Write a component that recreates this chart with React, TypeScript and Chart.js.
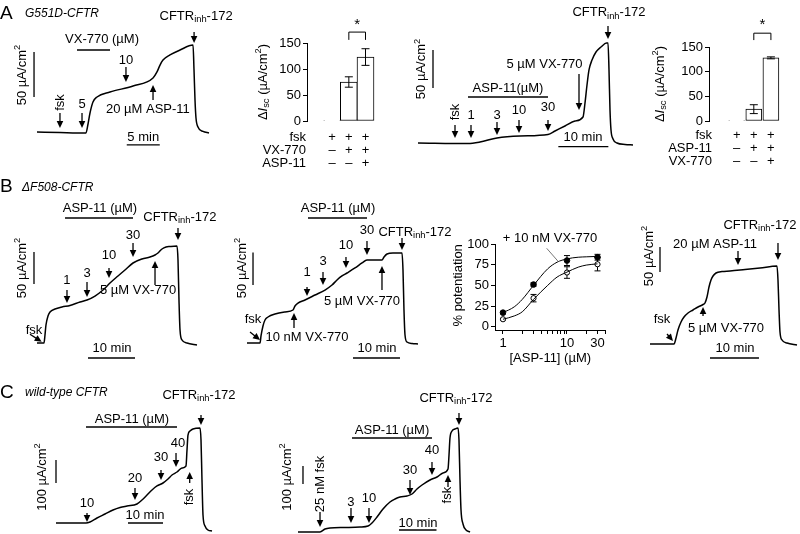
import React, { useEffect, useRef } from 'react';
import { Chart, registerables } from 'chart.js';

Chart.register(...registerables);

const FONT = '"Liberation Sans", Arial, Helvetica, sans-serif';
Chart.defaults.font.family = FONT;
Chart.defaults.font.size = 13;
Chart.defaults.color = '#000';

// ======================= DATA =======================
// Time in min, short-circuit current in µA/cm2 (relative to baseline)

// A, left: G551D-CFTR, VX-770 then 20 µM ASP-11
const a1Time = [0, 3.48, 7.42, 7.73, 8.03, 8.48, 9.09, 11.06, 14.55, 17.58, 18.18, 18.64, 19.09, 20.15, 21.67, 23.64, 23.79, 23.94, 24.09, 24.39, 25.15, 26.06];
const a1Current = [0, -0.6, -1.1, 8.9, 21.1, 33.3, 38.9, 44.4, 51.1, 60, 66.7, 74.4, 80, 85.6, 91.1, 96.7, 68.9, 35.6, 15.6, 5.6, 0.6, -1.1];

// A, first summary bars
const a1BarRows = ['fsk', 'VX-770', 'ASP-11'];
const a1BarSigns = [['+', '+', '+'], ['–', '+', '+'], ['–', '–', '+']];
const a1BarValues = [1, 75, 123];
const a1BarErrors = [0, 10, 16];

// A, right: G551D-CFTR, ASP-11 then 5 µM VX-770
const a2Time = [0, 10, 12.4, 15.8, 20.4, 26, 27.4, 29.4, 31.4, 33, 33.4, 33.8, 34.2, 34.8, 35.6, 36.6, 37.7, 38, 38.2, 38.4, 38.6, 39, 39.8, 41.4, 43];
const a2Current = [0, -0.7, 1.3, 6.6, 9.2, 11.2, 15.8, 22.4, 28.9, 34.2, 52.6, 76.3, 96.1, 109.2, 119.7, 126.3, 131.6, 131.6, 96.1, 43.4, 17.1, 5.3, 0, -2, -2.6];

// A, second summary bars
const a2BarRows = ['fsk', 'ASP-11', 'VX-770'];
const a2BarSigns = [['+', '+', '+'], ['–', '+', '+'], ['–', '–', '+']];
const a2BarValues = [1, 24, 128];
const a2BarErrors = [0, 9, 2];

// B, ΔF508-CFTR traces
const b1Time = [0, 1.49, 1.70, 1.91, 2.34, 2.77, 3.83, 5.32, 7.02, 9.15, 10.64, 12.34, 14.04, 15.53, 17.23, 18.72, 20.43, 22.34, 24.04, 25.11, 25.74, 26.60, 27.45, 28.30, 29.79, 30.0, 30.21, 30.43, 30.85, 31.91, 34.04];
const b1Current = [0, 0, 12.5, 28.1, 42.2, 48.4, 53.1, 56.3, 58.6, 64.1, 67.2, 73.4, 82.8, 93.8, 104.7, 114.1, 125, 131.3, 134.4, 137.5, 140.6, 146.9, 150, 150.8, 151.6, 129.7, 67.2, 20.3, 4.7, 0, -3.1];

const b2Time = [0, 2.77, 2.98, 3.40, 3.83, 4.47, 5.96, 8.09, 9.79, 10.21, 10.85, 12.34, 14.47, 16.60, 18.09, 19.15, 20.21, 21.28, 22.98, 24.47, 25.53, 27.23, 28.72, 29.15, 29.79, 31.06, 32.98, 33.19, 33.40, 33.62, 34.04, 35.11, 36.38];
const b2Current = [0, 0, 10.8, 26.2, 35.4, 40, 44.6, 47.7, 50.8, 56.9, 61.5, 66.2, 73.8, 81.5, 89.2, 96.9, 103.1, 107.7, 115.4, 123.1, 127.7, 127.7, 127.7, 132.3, 136.9, 138.5, 138.5, 112.3, 50.8, 12.3, 1.5, -0.8, -1.5];

const b3Time = [0, 4.90, 5.31, 5.71, 6.33, 6.94, 7.76, 8.78, 9.80, 10.82, 11.22, 11.63, 12.04, 12.45, 12.86, 13.47, 14.69, 16.33, 19.39, 22.45, 25.92, 26.12, 26.33, 26.53, 26.94, 27.96, 30.0];
const b3Current = [0, 0, 12, 28, 44, 54, 62, 68, 74, 79, 82, 94, 114, 128, 136, 142, 145, 146, 149, 152, 156, 128, 68, 24, 8, 2, -2];

// B, concentration dependence (% potentiation vs [ASP-11] µM)
const bConc = [1, 3, 10, 30];
const bPotWithVX = [17, 51, 80, 84];
const bPotWithVXErr = [1.5, 2, 6, 3.5];
const bPotAlone = [9, 34.5, 65.5, 75.5];
const bPotAloneErr = [1, 4.5, 7, 8];
const bFitConc = [1, 1.5, 2, 3, 5, 7, 10, 15, 20, 30];
const bFitWithVX = [17, 24, 33, 50, 70, 78, 82, 84, 84.5, 85];
const bFitAlone = [9, 13, 18, 33, 50, 60, 66, 72, 74.5, 76];
const bXTickValues = [1, 2, 3, 4, 5, 6, 7, 8, 9, 10, 20, 30, 40];
const bXTickLabels = ['1', '10', '30'];
const bYTicks = [0, 25, 50, 75, 100];

// C, wild-type CFTR traces
const c1Time = [0, 8.57, 9.71, 11.71, 14.0, 16.29, 18.29, 20.29, 23.14, 24.57, 26.0, 27.43, 28.86, 30.57, 32.0, 33.14, 34.57, 36.0, 37.14, 37.43, 37.71, 38.29, 39.14, 41.14, 41.43, 41.71, 42.0, 42.57, 43.43, 44.57];
const c1Current = [0, 0, 4.3, 21.7, 39.1, 56.5, 67.4, 73.9, 82.6, 100, 121.7, 143.5, 160.9, 173.9, 191.3, 208.7, 221.7, 239.1, 247.8, 317.4, 382.6, 400, 408.7, 413, 360.9, 187, 34.8, -13, -30.4, -34.8];

const c2Time = [0, 5.87, 7.2, 8.53, 12.53, 16.53, 18.67, 19.73, 21.07, 22.67, 24.53, 25.87, 27.2, 29.07, 30.4, 31.73, 33.07, 35.2, 37.07, 38.67, 40, 40.27, 40.53, 41.07, 41.87, 42.67, 42.93, 43.2, 43.47, 44.0, 44.8, 45.87];
const c2Current = [0, 0, 16.7, 22.2, 25, 27.8, 33.3, 50, 83.3, 127.8, 166.7, 183.3, 194.4, 200, 211.1, 238.9, 261.1, 288.9, 305.6, 327.8, 350, 427.8, 522.2, 561.1, 572.2, 577.8, 511.1, 288.9, 122.2, 44.4, 11.1, 0];

// ======================= DRAW HELPERS =======================
type Box = { l: number; t: number; w: number; h: number };

function parseRich(s: string) {
  const segs: { t: string; m: string }[] = [];
  const re = /([_^~])\{([^}]*)\}/g;
  let last = 0;
  let m: RegExpExecArray | null;
  while ((m = re.exec(s))) {
    if (m.index > last) segs.push({ t: s.slice(last, m.index), m: 'n' });
    segs.push({ t: m[2], m: m[1] === '_' ? 'sub' : m[1] === '^' ? 'sup' : 'it' });
    last = re.lastIndex;
  }
  if (last < s.length) segs.push({ t: s.slice(last), m: 'n' });
  return segs;
}

function drawRich(ctx: CanvasRenderingContext2D, s: string, x: number, y: number, opt: any = {}) {
  const size = opt.size ?? 13;
  const segs = parseRich(s);
  const fontFor = (seg: any) => {
    const small = seg.m === 'sub' || seg.m === 'sup';
    const sz = small ? size * 0.72 : size;
    const it = opt.italic || seg.m === 'it' ? 'italic ' : '';
    return `${it}${sz}px ${FONT}`;
  };
  ctx.save();
  let w = 0;
  const widths = segs.map((seg) => {
    ctx.font = fontFor(seg);
    const ww = ctx.measureText(seg.t).width;
    w += ww;
    return ww;
  });
  ctx.translate(x, y);
  if (opt.rot) ctx.rotate(-Math.PI / 2);
  let cx = opt.align === 'left' ? 0 : opt.align === 'right' ? -w : -w / 2;
  ctx.textBaseline = 'middle';
  ctx.textAlign = 'left';
  ctx.fillStyle = '#000';
  segs.forEach((seg, i) => {
    ctx.font = fontFor(seg);
    const dy = seg.m === 'sub' ? size * 0.3 : seg.m === 'sup' ? -size * 0.33 : 0;
    ctx.fillText(seg.t, cx, dy);
    cx += widths[i];
  });
  ctx.restore();
}

function drawArrow(ctx: CanvasRenderingContext2D, x1: number, y1: number, x2: number, y2: number) {
  const ang = Math.atan2(y2 - y1, x2 - x1);
  const hl = 7;
  const hw = 3.3;
  const c = Math.cos(ang);
  const s = Math.sin(ang);
  ctx.beginPath();
  ctx.moveTo(x1, y1);
  ctx.lineTo(x2 - c * hl * 0.7, y2 - s * hl * 0.7);
  ctx.stroke();
  ctx.beginPath();
  ctx.moveTo(x2, y2);
  ctx.lineTo(x2 - hl * c + hw * s, y2 - hl * s - hw * c);
  ctx.lineTo(x2 - hl * c - hw * s, y2 - hl * s + hw * c);
  ctx.closePath();
  ctx.fill();
}

function makeAnno(items: any[], box: Box) {
  return {
    id: 'anno',
    afterDatasetsDraw(chart: any) {
      const ctx = chart.ctx as CanvasRenderingContext2D;
      const X = (v: number) => chart.scales.x.getPixelForValue(v);
      const Y = (v: number) => chart.scales.y.getPixelForValue(v);
      ctx.save();
      ctx.strokeStyle = '#000';
      ctx.fillStyle = '#000';
      ctx.lineWidth = 1.3;
      for (const it of items) {
        if (it.k === 'arrow') drawArrow(ctx, X(it.x), Y(it.y1), X(it.x), Y(it.y2));
        else if (it.k === 'darrow') drawArrow(ctx, X(it.x1), Y(it.y1), X(it.x2), Y(it.y2));
        else if (it.k === 'line') {
          ctx.beginPath();
          ctx.moveTo(X(it.x1), Y(it.y1));
          ctx.lineTo(X(it.x2), Y(it.y2));
          ctx.stroke();
        } else if (it.k === 'text') drawRich(ctx, it.s, X(it.x), Y(it.y), { rot: it.rot, align: it.align });
        else if (it.k === 'ptext')
          drawRich(ctx, it.s, it.px - box.l, it.py - box.t, { size: it.size, italic: it.italic, align: 'left' });
      }
      ctx.restore();
    },
  };
}

const baseOpts = {
  animation: false,
  responsive: false,
  maintainAspectRatio: false,
  events: [],
  plugins: { legend: { display: false }, tooltip: { enabled: false } },
};

interface TracePanel { box: Box; x0: number; y0: number; kx: number; ky: number; time: number[]; current: number[]; items: any[] }

function traceConfig(p: TracePanel): any {
  const xmin = (p.box.l - p.x0) / p.kx;
  const xmax = xmin + p.box.w / p.kx;
  const ymax = (p.y0 - p.box.t) / p.ky;
  const ymin = ymax - p.box.h / p.ky;
  return {
    type: 'line',
    data: {
      datasets: [
        {
          data: p.time.map((t, i) => ({ x: t, y: p.current[i] })),
          borderColor: '#000',
          borderWidth: 1.5,
          pointRadius: 0,
          fill: false,
          cubicInterpolationMode: 'monotone',
        },
      ],
    },
    options: {
      ...baseOpts,
      layout: { padding: 0 },
      scales: {
        x: { type: 'linear', display: false, min: xmin, max: xmax },
        y: { type: 'linear', display: false, min: ymin, max: ymax },
      },
    },
    plugins: [makeAnno(p.items, p.box)],
  };
}

function barConfig(p: any): any {
  return {
    type: 'bar',
    data: {
      datasets: [
        {
          data: p.values.map((v: number, i: number) => ({ x: i + 1, y: v })),
          backgroundColor: '#fff',
          borderColor: '#000',
          borderWidth: 1,
          borderSkipped: false,
          barThickness: p.barW,
        },
      ],
    },
    options: {
      ...baseOpts,
      layout: { padding: { left: 0, top: p.pad.t, right: p.pad.r, bottom: p.pad.b } },
      scales: {
        x: { type: 'linear', display: false, min: p.xmin, max: p.xmax },
        y: {
          min: 0,
          max: 150,
          ticks: { stepSize: 50, padding: 2, font: { size: 13 }, color: '#000' },
          grid: { drawOnChartArea: false, color: '#000', tickLength: 4 },
          border: { color: '#000', width: 1 },
          afterFit: (s: any) => { s.width = p.axisW; },
        },
      },
    },
    plugins: [
      {
        id: 'barExtras',
        afterDatasetsDraw(chart: any) {
          const ctx = chart.ctx as CanvasRenderingContext2D;
          const xs = chart.scales.x;
          const ys = chart.scales.y;
          const ca = chart.chartArea;
          ctx.save();
          ctx.strokeStyle = '#000';
          ctx.lineWidth = 1;
          p.values.forEach((v: number, i: number) => {
            const e = p.errors[i];
            if (!e) return;
            const x = xs.getPixelForValue(i + 1);
            const y1 = ys.getPixelForValue(v + e);
            const y2 = ys.getPixelForValue(v - e);
            ctx.beginPath();
            ctx.moveTo(x, y1); ctx.lineTo(x, y2);
            ctx.moveTo(x - 4, y1); ctx.lineTo(x + 4, y1);
            ctx.moveTo(x - 4, y2); ctx.lineTo(x + 4, y2);
            ctx.stroke();
          });
          const bx1 = xs.getPixelForValue(p.bracket[0]);
          const bx2 = xs.getPixelForValue(p.bracket[1]);
          const by = ys.getPixelForValue(p.bracketLevel);
          const bl = ys.getPixelForValue(p.bracketLeg);
          ctx.beginPath();
          ctx.moveTo(bx1, bl); ctx.lineTo(bx1, by); ctx.lineTo(bx2, by); ctx.lineTo(bx2, bl);
          ctx.stroke();
          drawRich(ctx, '*', (bx1 + bx2) / 2, ys.getPixelForValue(p.starLevel), { size: 15 });
          drawRich(ctx, 'Δ~{I}_{sc} (µA/cm^{2})', ca.left - p.titleGap, (ca.top + ca.bottom) / 2, { rot: true });
          p.rows.forEach((name: string, r: number) => {
            const y = ca.bottom + p.rowTop + r * p.rowStep;
            drawRich(ctx, name, ca.left + p.labelShift, y, { align: 'right' });
            p.signs[r].forEach((s: string, i: number) => drawRich(ctx, s, xs.getPixelForValue(i + 1), y));
          });
          ctx.restore();
        },
      },
    ],
  };
}

function lineConfig(box: Box): any {
  return {
    type: 'line',
    data: {
      datasets: [
        { data: bFitConc.map((c, i) => ({ x: c, y: bFitWithVX[i] })), borderColor: '#000', borderWidth: 1, pointRadius: 0, cubicInterpolationMode: 'monotone' },
        { data: bFitConc.map((c, i) => ({ x: c, y: bFitAlone[i] })), borderColor: '#000', borderWidth: 1, pointRadius: 0, cubicInterpolationMode: 'monotone' },
        { data: bConc.map((c, i) => ({ x: c, y: bPotWithVX[i] })), showLine: false, pointRadius: 2.8, pointBackgroundColor: '#000', pointBorderColor: '#000', pointBorderWidth: 1 },
        { data: bConc.map((c, i) => ({ x: c, y: bPotAlone[i] })), showLine: false, pointRadius: 2.6, pointBackgroundColor: '#fff', pointBorderColor: '#000', pointBorderWidth: 1 },
      ],
    },
    options: {
      ...baseOpts,
      layout: { padding: { left: 0, top: 49, right: 14.5, bottom: 0 } },
      scales: {
        x: {
          type: 'logarithmic',
          min: 0.75,
          max: 40,
          afterBuildTicks: (s: any) => { s.ticks = bXTickValues.map((v) => ({ value: v })); },
          afterFit: (s: any) => { s.height = 40; },
          ticks: {
            autoSkip: false,
            maxRotation: 0,
            padding: 2,
            color: '#000',
            callback: (v: any) => (bXTickLabels.includes(String(v)) ? String(v) : ''),
          },
          grid: { drawOnChartArea: false, color: '#000', tickLength: 4 },
          border: { color: '#000' },
        },
        y: {
          min: -4,
          max: 100,
          afterBuildTicks: (s: any) => { s.ticks = bYTicks.map((v) => ({ value: v })); },
          afterFit: (s: any) => { s.width = 65; },
          ticks: { padding: 2, color: '#000' },
          grid: { drawOnChartArea: false, color: '#000', tickLength: 4 },
          border: { color: '#000' },
        },
      },
    },
    plugins: [
      {
        id: 'errs',
        beforeDatasetsDraw(chart: any) {
          const ctx = chart.ctx as CanvasRenderingContext2D;
          const xs = chart.scales.x;
          const ys = chart.scales.y;
          ctx.save();
          ctx.strokeStyle = '#000';
          ctx.lineWidth = 1;
          const draw = (vals: number[], errs: number[]) =>
            bConc.forEach((c, i) => {
              const x = xs.getPixelForValue(c);
              const y1 = ys.getPixelForValue(vals[i] + errs[i]);
              const y2 = ys.getPixelForValue(vals[i] - errs[i]);
              ctx.beginPath();
              ctx.moveTo(x, y1); ctx.lineTo(x, y2);
              ctx.moveTo(x - 3, y1); ctx.lineTo(x + 3, y1);
              ctx.moveTo(x - 3, y2); ctx.lineTo(x + 3, y2);
              ctx.stroke();
            });
          draw(bPotWithVX, bPotWithVXErr);
          draw(bPotAlone, bPotAloneErr);
          ctx.restore();
        },
        afterDatasetsDraw(chart: any) {
          const ctx = chart.ctx as CanvasRenderingContext2D;
          const xs = chart.scales.x;
          const ys = chart.scales.y;
          const ca = chart.chartArea;
          ctx.save();
          drawRich(ctx, '% potentiation', ca.left - 37, (ys.getPixelForValue(0) + ys.getPixelForValue(100)) / 2, { rot: true });
          drawRich(ctx, '[ASP-11] (µM)', (ca.left + ca.right) / 2, ca.bottom + 28);
          drawRich(ctx, '+ 10 nM VX-770', xs.getPixelForValue(5.42), ys.getPixelForValue(107));
          ctx.strokeStyle = '#777';
          ctx.lineWidth = 1;
          ctx.beginPath();
          ctx.moveTo(xs.getPixelForValue(4.82), ys.getPixelForValue(94.8));
          ctx.lineTo(xs.getPixelForValue(7.33), ys.getPixelForValue(78.7));
          ctx.stroke();
          ctx.restore();
        },
      },
    ],
  };
}

// ======================= PANEL LAYOUTS =======================
const CFTR = 'CFTR_{inh}-172';
const UA50 = '50 µA/cm^{2}';
const UA100 = '100 µA/cm^{2}';

const panelA1: TracePanel = {
  box: { l: 0, t: 0, w: 240, h: 175 }, x0: 37, y0: 132, kx: 6.6, ky: 0.9,
  time: a1Time, current: a1Current,
  items: [
    { k: 'ptext', px: 0, py: 14, s: 'A', size: 19 },
    { k: 'ptext', px: 25, py: 14, s: 'G551D-CFTR', size: 12, italic: true },
    { k: 'line', x1: -0.45, y1: 38.9, x2: -0.45, y2: 88.9 },
    { k: 'text', x: -2.27, y: 63.3, s: UA50, rot: true },
    { k: 'line', x1: 13.6, y1: -14.4, x2: 18.6, y2: -14.4 },
    { k: 'text', x: 16.1, y: -5.6, s: '5 min' },
    { k: 'arrow', x: 3.48, y1: 21.1, y2: 4.4 },
    { k: 'text', x: 3.48, y: 32.8, s: 'fsk', rot: true },
    { k: 'arrow', x: 6.82, y1: 21.1, y2: 4.4 },
    { k: 'text', x: 6.82, y: 31.1, s: '5' },
    { k: 'arrow', x: 13.48, y1: 72.2, y2: 55.6 },
    { k: 'text', x: 13.48, y: 80, s: '10' },
    { k: 'line', x1: 6.06, y1: 91.1, x2: 11.06, y2: 91.1 },
    { k: 'text', x: 9.85, y: 103.3, s: 'VX-770 (µM)' },
    { k: 'arrow', x: 17.58, y1: 35.6, y2: 52.2 },
    { k: 'text', x: 16.8, y: 25.6, s: '20 µM ASP-11' },
    { k: 'arrow', x: 23.8, y1: 111.1, y2: 98.9 },
    { k: 'text', x: 24.1, y: 128.9, s: CFTR },
  ],
};

const barA1 = {
  box: { l: 230, t: 0, w: 170, h: 175 }, axisW: 77, pad: { t: 43, r: 10, b: 54 },
  xmin: 0.32, xmax: 3.64, barW: 17,
  rows: a1BarRows, signs: a1BarSigns, values: a1BarValues, errors: a1BarErrors,
  bracket: [2, 3], bracketLevel: 171, bracketLeg: 156, starLevel: 184,
  titleGap: 44, rowTop: 16, rowStep: 13.3, labelShift: -1,
};

const panelA2: TracePanel = {
  box: { l: 400, t: 0, w: 250, h: 175 }, x0: 418, y0: 143, kx: 5, ky: 0.76,
  time: a2Time, current: a2Current,
  items: [
    { k: 'line', x1: 3, y1: 72.4, x2: 3, y2: 122.4 },
    { k: 'text', x: 0.74, y: 97.4, s: UA50, rot: true },
    { k: 'line', x1: 28.07, y1: -4.8, x2: 38.07, y2: -4.8 },
    { k: 'text', x: 33, y: 7.9, s: '10 min' },
    { k: 'arrow', x: 7.4, y1: 23.7, y2: 6.6 },
    { k: 'text', x: 7.4, y: 40.8, s: 'fsk', rot: true },
    { k: 'arrow', x: 10.6, y1: 23.7, y2: 6.6 },
    { k: 'text', x: 10.6, y: 36.8, s: '1' },
    { k: 'arrow', x: 15.8, y1: 27.6, y2: 10.5 },
    { k: 'text', x: 15.8, y: 36.8, s: '3' },
    { k: 'arrow', x: 20.2, y1: 30.3, y2: 13.2 },
    { k: 'text', x: 20.2, y: 43.4, s: '10' },
    { k: 'arrow', x: 26, y1: 30.3, y2: 15.8 },
    { k: 'text', x: 26, y: 47.4, s: '30' },
    { k: 'line', x1: 10, y1: 60.5, x2: 26, y2: 60.5 },
    { k: 'text', x: 18, y: 72.4, s: 'ASP-11(µM)' },
    { k: 'arrow', x: 32.2, y1: 90.8, y2: 43.4 },
    { k: 'text', x: 25.3, y: 103.9, s: '5 µM VX-770' },
    { k: 'arrow', x: 38, y1: 153.9, y2: 136.8 },
    { k: 'text', x: 38.2, y: 171.4, s: CFTR },
  ],
};

const barA2 = {
  box: { l: 640, t: 0, w: 160, h: 175 }, axisW: 69, pad: { t: 47, r: 5, b: 54 },
  xmin: 0.22, xmax: 3.57, barW: 16,
  rows: a2BarRows, signs: a2BarSigns, values: a2BarValues, errors: a2BarErrors,
  bracket: [2, 3], bracketLevel: 178, bracketLeg: 164, starLevel: 195,
  titleGap: 49, rowTop: 14, rowStep: 13.4, labelShift: 3,
};

const panelB1: TracePanel = {
  box: { l: 0, t: 175, w: 230, h: 190 }, x0: 37, y0: 343, kx: 4.7, ky: 0.64,
  time: b1Time, current: b1Current,
  items: [
    { k: 'ptext', px: 0, py: 187, s: 'B', size: 19 },
    { k: 'ptext', px: 22, py: 188, s: 'ΔF508-CFTR', size: 12, italic: true },
    { k: 'line', x1: -0.64, y1: 92.2, x2: -0.64, y2: 142.2 },
    { k: 'text', x: -3.19, y: 117.2, s: UA50, rot: true },
    { k: 'line', x1: 10.85, y1: -23.4, x2: 20.85, y2: -23.4 },
    { k: 'text', x: 15.96, y: -7.8, s: '10 min' },
    { k: 'text', x: -0.64, y: 20.3, s: 'fsk' },
    { k: 'darrow', x1: -1.49, y1: 13.6, x2: 1.0, y2: 2.0 },
    { k: 'arrow', x: 6.38, y1: 82.8, y2: 62.5 },
    { k: 'text', x: 6.38, y: 98.4, s: '1' },
    { k: 'arrow', x: 10.64, y1: 95.3, y2: 71.9 },
    { k: 'text', x: 10.64, y: 109.4, s: '3' },
    { k: 'arrow', x: 15.32, y1: 117.2, y2: 101.6 },
    { k: 'text', x: 15.32, y: 137.5, s: '10' },
    { k: 'arrow', x: 20.43, y1: 156.3, y2: 134.4 },
    { k: 'text', x: 20.43, y: 168.8, s: '30' },
    { k: 'line', x1: 5.96, y1: 195.3, x2: 20.43, y2: 195.3 },
    { k: 'text', x: 13.4, y: 210.9, s: 'ASP-11 (µM)' },
    { k: 'arrow', x: 25.11, y1: 90.6, y2: 128.1 },
    { k: 'text', x: 21.5, y: 82.8, s: '5 µM VX-770' },
    { k: 'arrow', x: 30, y1: 179.7, y2: 160.9 },
    { k: 'text', x: 30.4, y: 196.9, s: CFTR },
  ],
};

const panelB2: TracePanel = {
  box: { l: 210, t: 175, w: 250, h: 190 }, x0: 247, y0: 343, kx: 4.7, ky: 0.65,
  time: b2Time, current: b2Current,
  items: [
    { k: 'line', x1: 1.28, y1: 89.2, x2: 1.28, y2: 139.2 },
    { k: 'text', x: -1.06, y: 115.4, s: UA50, rot: true },
    { k: 'line', x1: 22.55, y1: -23.1, x2: 32.55, y2: -23.1 },
    { k: 'text', x: 27.66, y: -7.7, s: '10 min' },
    { k: 'text', x: 1.28, y: 36.9, s: 'fsk' },
    { k: 'darrow', x1: 0.64, y1: 16.9, x2: 2.77, y2: 4.6 },
    { k: 'arrow', x: 10, y1: 23.1, y2: 46.2 },
    { k: 'text', x: 12.77, y: 9.2, s: '10 nM VX-770' },
    { k: 'arrow', x: 12.77, y1: 86.2, y2: 72.3 },
    { k: 'text', x: 12.77, y: 109.2, s: '1' },
    { k: 'arrow', x: 16.17, y1: 109.2, y2: 89.2 },
    { k: 'text', x: 16.17, y: 126.2, s: '3' },
    { k: 'arrow', x: 21.06, y1: 132.3, y2: 115.4 },
    { k: 'text', x: 21.06, y: 150.8, s: '10' },
    { k: 'arrow', x: 25.53, y1: 156.9, y2: 135.4 },
    { k: 'text', x: 25.53, y: 173.8, s: '30' },
    { k: 'arrow', x: 28.72, y1: 81.5, y2: 118.5 },
    { k: 'text', x: 24.47, y: 64.6, s: '5 µM VX-770' },
    { k: 'line', x1: 12.98, y1: 192.3, x2: 25.53, y2: 192.3 },
    { k: 'text', x: 19.36, y: 207.7, s: 'ASP-11 (µM)' },
    { k: 'arrow', x: 32.98, y1: 161.5, y2: 143.1 },
    { k: 'text', x: 35.74, y: 170.8, s: CFTR },
  ],
};

const lineBox: Box = { l: 430, t: 195, w: 190, h: 175 };

const panelB3: TracePanel = {
  box: { l: 620, t: 175, w: 180, h: 190 }, x0: 650, y0: 344, kx: 4.9, ky: 0.5,
  time: b3Time, current: b3Current,
  items: [
    { k: 'line', x1: 2.04, y1: 144, x2: 2.04, y2: 194 },
    { k: 'text', x: -0.2, y: 176, s: UA50, rot: true },
    { k: 'line', x1: 12.24, y1: -28, x2: 22.24, y2: -28 },
    { k: 'text', x: 17.35, y: -8, s: '10 min' },
    { k: 'text', x: 2.45, y: 50, s: 'fsk' },
    { k: 'darrow', x1: 3.47, y1: 20, x2: 4.69, y2: 6 },
    { k: 'arrow', x: 10.82, y1: 56, y2: 74 },
    { k: 'text', x: 15.51, y: 32, s: '5 µM VX-770' },
    { k: 'arrow', x: 17.96, y1: 186, y2: 158 },
    { k: 'text', x: 13.27, y: 200, s: '20 µM ASP-11' },
    { k: 'arrow', x: 26.12, y1: 202, y2: 168 },
    { k: 'text', x: 22.45, y: 238, s: CFTR },
  ],
};

const panelC1: TracePanel = {
  box: { l: 0, t: 370, w: 245, h: 164 }, x0: 56, y0: 523, kx: 3.5, ky: 0.23,
  time: c1Time, current: c1Current,
  items: [
    { k: 'ptext', px: 0, py: 393, s: 'C', size: 19 },
    { k: 'ptext', px: 25, py: 393, s: 'wild-type CFTR', size: 12, italic: true },
    { k: 'line', x1: 0, y1: 173.9, x2: 0, y2: 273.9 },
    { k: 'text', x: -4, y: 200, s: UA100, rot: true },
    { k: 'line', x1: 20.57, y1: 0, x2: 30.57, y2: 0 },
    { k: 'text', x: 25.43, y: 34.8, s: '10 min' },
    { k: 'arrow', x: 8.86, y1: 43.5, y2: 4.3 },
    { k: 'text', x: 8.86, y: 87, s: '10' },
    { k: 'arrow', x: 22.57, y1: 152, y2: 100 },
    { k: 'text', x: 22.57, y: 195.7, s: '20' },
    { k: 'arrow', x: 30, y1: 230, y2: 187 },
    { k: 'text', x: 30, y: 287, s: '30' },
    { k: 'arrow', x: 34.29, y1: 304, y2: 243.5 },
    { k: 'text', x: 34.86, y: 347.8, s: '40' },
    { k: 'line', x1: 8.57, y1: 417.4, x2: 34.57, y2: 417.4 },
    { k: 'text', x: 21.71, y: 452.2, s: 'ASP-11 (µM)' },
    { k: 'arrow', x: 38.2, y1: 174, y2: 221.7 },
    { k: 'text', x: 38, y: 113, s: 'fsk', rot: true },
    { k: 'arrow', x: 41.43, y1: 469.6, y2: 426 },
    { k: 'text', x: 40.86, y: 556.5, s: CFTR },
  ],
};

const panelC2: TracePanel = {
  box: { l: 250, t: 370, w: 250, h: 164 }, x0: 298, y0: 532, kx: 3.75, ky: 0.18,
  time: c2Time, current: c2Current,
  items: [
    { k: 'line', x1: 1.33, y1: 266.7, x2: 1.33, y2: 366.7 },
    { k: 'text', x: -2.93, y: 305.6, s: UA100, rot: true },
    { k: 'line', x1: 26.93, y1: 11.1, x2: 36.93, y2: 11.1 },
    { k: 'text', x: 32, y: 50, s: '10 min' },
    { k: 'text', x: 5.87, y: 266.7, s: '25 nM fsk', rot: true },
    { k: 'arrow', x: 5.87, y1: 111, y2: 27.8 },
    { k: 'arrow', x: 14.13, y1: 133, y2: 50 },
    { k: 'text', x: 14.13, y: 166.7, s: '3' },
    { k: 'arrow', x: 18.93, y1: 133, y2: 50 },
    { k: 'text', x: 18.93, y: 188.9, s: '10' },
    { k: 'arrow', x: 29.87, y1: 288.9, y2: 205.6 },
    { k: 'text', x: 29.87, y: 344.4, s: '30' },
    { k: 'arrow', x: 35.73, y1: 388.9, y2: 316.7 },
    { k: 'text', x: 35.73, y: 455.6, s: '40' },
    { k: 'line', x1: 14.4, y1: 522.2, x2: 35.73, y2: 522.2 },
    { k: 'text', x: 25.07, y: 566.7, s: 'ASP-11 (µM)' },
    { k: 'arrow', x: 40, y1: 250, y2: 316.7 },
    { k: 'text', x: 39.8, y: 205, s: 'fsk', rot: true },
    { k: 'arrow', x: 42.93, y1: 661, y2: 594.4 },
    { k: 'text', x: 42.13, y: 744.4, s: CFTR },
  ],
};

// ======================= COMPONENTS =======================
function ChartBox({ box, make }: { box: Box; make: () => any }) {
  const ref = useRef<HTMLCanvasElement>(null);
  useEffect(() => {
    const chart = new Chart(ref.current as HTMLCanvasElement, make());
    return () => chart.destroy();
  }, []);
  return (
    <canvas
      ref={ref}
      width={box.w}
      height={box.h}
      style={{ position: 'absolute', left: box.l, top: box.t, width: box.w, height: box.h }}
    />
  );
}

export default function App() {
  return (
    <div style={{ position: 'absolute', left: 0, top: 0, width: 800, height: 534, background: '#fff', overflow: 'hidden' }}>
      <ChartBox box={panelA1.box} make={() => traceConfig(panelA1)} />
      <ChartBox box={barA1.box} make={() => barConfig(barA1)} />
      <ChartBox box={panelA2.box} make={() => traceConfig(panelA2)} />
      <ChartBox box={barA2.box} make={() => barConfig(barA2)} />
      <ChartBox box={panelB1.box} make={() => traceConfig(panelB1)} />
      <ChartBox box={panelB2.box} make={() => traceConfig(panelB2)} />
      <ChartBox box={lineBox} make={() => lineConfig(lineBox)} />
      <ChartBox box={panelB3.box} make={() => traceConfig(panelB3)} />
      <ChartBox box={panelC1.box} make={() => traceConfig(panelC1)} />
      <ChartBox box={panelC2.box} make={() => traceConfig(panelC2)} />
    </div>
  );
}
